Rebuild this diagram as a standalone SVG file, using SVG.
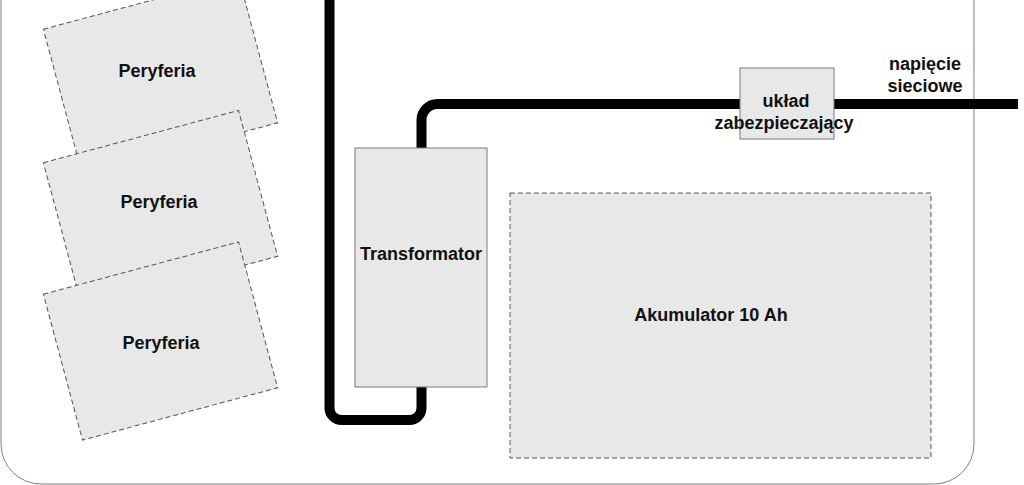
<svg xmlns="http://www.w3.org/2000/svg" width="1024" height="485" viewBox="0 0 1024 485">
<style>
.lbl{font-family:"Liberation Sans",Arial,sans-serif;font-weight:bold;font-size:18px;fill:#111;text-anchor:middle}
.dash{fill:#e8e8e8;stroke:#555;stroke-width:1;stroke-dasharray:5,3}
.solid{fill:#e8e8e8;stroke:#7a7a7a;stroke-width:1}
.wire{fill:none;stroke:#000;stroke-width:10}
</style>
<rect width="1024" height="485" fill="#fff"/>
<g id="container">
<rect x="1" y="-60" width="973" height="544" rx="40" ry="40" fill="none" stroke="#808080" stroke-width="1"/>
</g>
<g id="peryferia1">
<rect class="dash" x="-101" y="-75.5" width="202" height="151" transform="translate(160.5,76) rotate(-15)"/>
<text class="lbl" x="157" y="77">Peryferia</text>
</g>
<g id="peryferia2">
<rect class="dash" x="-101" y="-75.5" width="202" height="151" transform="translate(160.5,209.5) rotate(-15)"/>
<text class="lbl" x="159" y="208">Peryferia</text>
</g>
<g id="peryferia3">
<rect class="dash" x="-101" y="-75.5" width="202" height="151" transform="translate(160.5,341) rotate(-15)"/>
<text class="lbl" x="161" y="349">Peryferia</text>
</g>
<g id="connectors">
<path class="wire" d="M329.5 0 V408 A12 12 0 0 0 341.5 420 H409.5 A12 12 0 0 0 421.5 408 V387"/>
<path class="wire" d="M421.5 148 V120 A16 16 0 0 1 437.5 104 H1018"/>
</g>
<g id="transformator">
<rect class="solid" x="355" y="148" width="132" height="239"/>
<text class="lbl" x="421" y="260">Transformator</text>
</g>
<g id="uklad">
<rect class="solid" x="740" y="68" width="94" height="71"/>
<text class="lbl" x="786" y="107">układ</text>
<text class="lbl" x="784" y="129">zabezpieczający</text>
</g>
<g id="akumulator">
<rect class="dash" x="510" y="193" width="421" height="265"/>
<text class="lbl" x="711" y="321">Akumulator 10 Ah</text>
</g>
<g id="siec">
<text class="lbl" x="925" y="70">napięcie</text>
<text class="lbl" x="925" y="92">sieciowe</text>
</g>
</svg>
